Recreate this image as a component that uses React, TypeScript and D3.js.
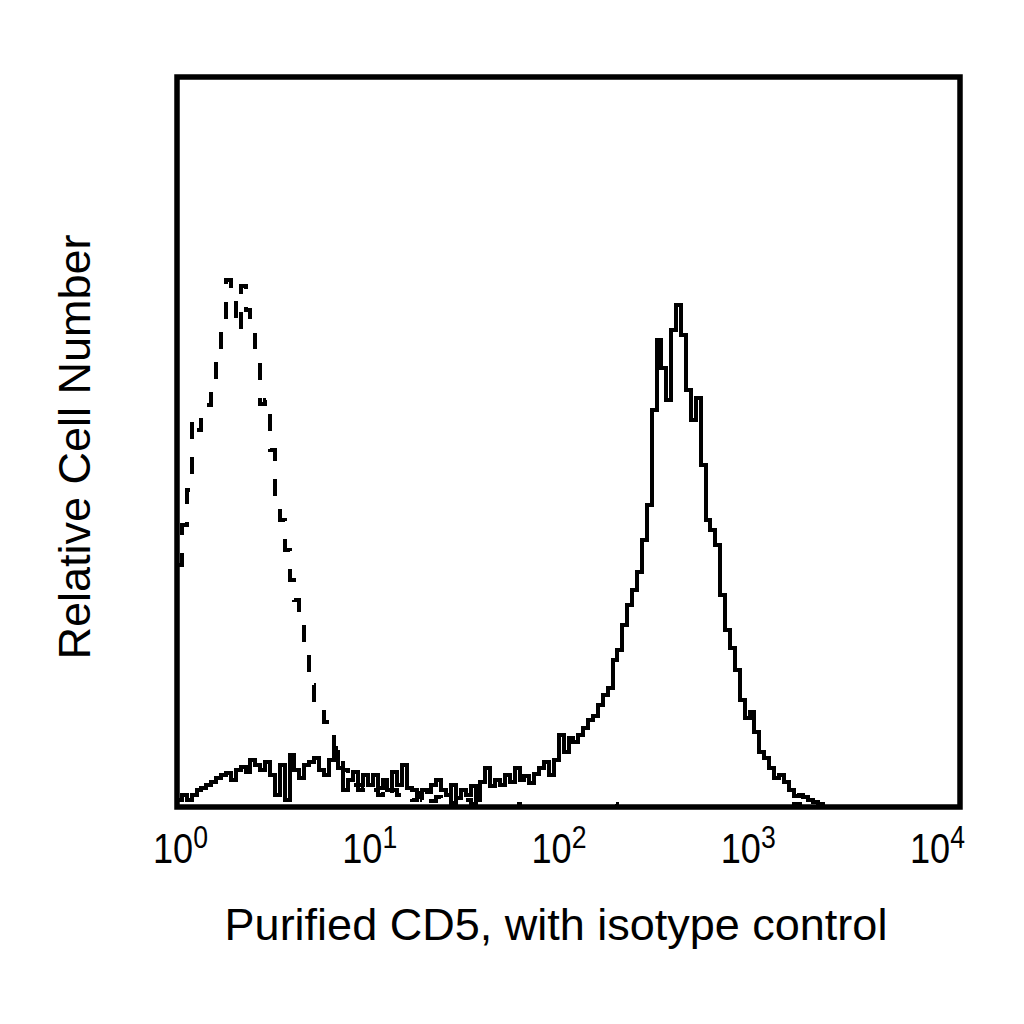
import { useEffect, useRef } from "react";
import * as d3 from "d3";

// 160 log-spaced channels across 10^0..10^4, relative cell counts (0-100 = full axis height)
const cd5Counts = [
  1, 1.6, 1, 1.6, 2.3, 2.6, 3.0, 3.4, 4.0, 4.4,
  4.7, 3.7, 5.1, 5.5, 4.8, 6.4, 5.8, 5.1, 6.2, 4.4,
  1.6, 5.8, 1, 7.1, 5.1, 4.0, 5.8, 6.2, 6.7, 5.1,
  4.4, 6.4, 7.5, 5.3, 2.3, 3.7, 4.8, 3.0, 4.4, 3.0,
  4.4, 2.6, 3.7, 2.3, 4.8, 3.0, 5.8, 2.6, 2.3, 1.9,
  2.3, 2.1, 3.0, 3.7, 2.3, 1.6, 3.0, 1.2, 2.3, 1.6,
  2.9, 1, 3.4, 5.3, 2.9, 3.7, 3.0, 4.4, 3.4, 5.3,
  3.7, 4.2, 3.3, 4.5, 5.3, 6.2, 4.4, 6.4, 9.9, 7.5,
  9.5, 8.9, 9.9, 10.8, 11.9, 12.5, 14.0, 15.3, 16.3, 20.1,
  21.5, 24.9, 27.7, 29.7, 32.2, 36.6, 41.4, 54.4, 64.0, 60.1,
  55.8, 65.3, 68.8, 64.7, 57.1, 53.0, 56.0, 46.8, 39.3, 37.9,
  35.9, 29.0, 24.2, 21.8, 18.8, 14.7, 12.2, 13.0, 10.3, 7.5,
  6.7, 5.3, 4.0, 4.4, 3.4, 2.3, 1.5, 1.6, 1.4, 1,
  0.7, 0.4, 0, 0, 0, 0, 0, 0, 0, 0,
  0, 0, 0, 0, 0, 0, 0, 0, 0, 0,
  0, 0, 0, 0, 0, 0, 0, 0, 0, 0,
];

const isotypeCounts = [
  33.2, 38.6, 43.4, 53.0, 51.6, 54.1, 55.1, 57.8, 62.6, 66.7,
  72.2, 69.5, 65.3, 71.4, 68.1, 64.7, 61.9, 55.2, 55.8, 48.9,
  42.1, 39.3, 35.2, 31.1, 28.4, 25.6, 21.5, 16.7, 14.7, 13.0,
  11.6, 9.9, 8.1, 6.4, 5.1, 4.0, 3.0, 2.3, 2.6, 1.9,
  2.3, 1.6, 2.1, 1.5, 2.3, 1.6, 1.2, 1.5, 1.0, 1.4,
  1.0, 1.6, 0.8, 1.4, 0.5, 1.2, 0.5, 1.0, 0.4, 1.0,
  0.4, 1.0, 0.3, 0, 0, 0, 0, 0, 0, 0.4,
  0, 0, 0, 0, 0, 0, 0, 0, 0, 0,
  0, 0, 0, 0, 0, 0, 0, 0, 0, 0.4,
  0, 0, 0, 0, 0, 0, 0, 0, 0, 0,
  0, 0, 0, 0, 0, 0, 0, 0, 0, 0,
  0, 0, 0, 0, 0, 0, 0, 0, 0, 0,
  0, 0, 0, 0, 0, 0, 0.4, 0.4, 0.4, 0,
  0, 0, 0, 0, 0, 0, 0, 0, 0, 0,
  0, 0, 0, 0, 0, 0, 0, 0, 0, 0,
  0, 0, 0, 0, 0, 0, 0, 0, 0, 0,
];

const decadeTicks = [1, 10, 100, 1000, 10000];
const tickExponents = ["0", "1", "2", "3", "4"];

const xLabel = "Purified CD5, with isotype control";
const yLabel = "Relative Cell Number";

const FONT = "'Liberation Sans', Arial, Helvetica, sans-serif";

export default function App() {
  const svgRef = useRef<SVGSVGElement | null>(null);

  useEffect(() => {
    const svg = d3.select(svgRef.current);
    svg.selectAll("*").remove();

    const left = 177;
    const right = 960;
    const top = 77;
    const bottom = 807;

    const x = d3.scaleLog().domain([1, 10000]).range([left, right]);
    const y = d3.scaleLinear().domain([0, 100]).range([bottom, top]);
    // label start positions drift slightly from the decade marks in the original
    const labelX = d3.scaleLog().domain([1, 10000]).range([153, 910]);

    const nBins = cd5Counts.length;
    const edge = (i: number) => Math.pow(10, (i * 4) / nBins);

    const toPoints = (counts: number[]) => {
      const pts: [number, number][] = counts.map((c, i) => [edge(i), c]);
      pts.push([edge(nBins), counts[counts.length - 1]]);
      return pts;
    };

    const line = d3
      .line<[number, number]>()
      .x((d) => x(d[0]))
      .y((d) => y(d[1]))
      .curve(d3.curveStepAfter);

    const g = svg.append("g").attr("shape-rendering", "crispEdges");

    g.append("path")
      .attr("d", line(toPoints(isotypeCounts)) || "")
      .attr("fill", "none")
      .attr("stroke", "#000")
      .attr("stroke-width", 4)
      .attr("stroke-dasharray", "17 18");

    g.append("path")
      .attr("d", line(toPoints(cd5Counts)) || "")
      .attr("fill", "none")
      .attr("stroke", "#000")
      .attr("stroke-width", 4);

    svg.append("rect")
      .attr("x", left)
      .attr("y", top)
      .attr("width", right - left)
      .attr("height", bottom - top)
      .attr("fill", "none")
      .attr("stroke", "#000")
      .attr("stroke-width", 5.5);

    const ticks = svg.append("g").style("font-family", FONT);
    decadeTicks.forEach((t, i) => {
      const txt = ticks.append("text")
        .attr("transform", `translate(${labelX(t)},863) scale(0.95,1.1)`)
        .style("font-size", "38px")
        .attr("fill", "#000");
      txt.append("tspan").text("10");
      txt.append("tspan")
        .attr("dy", -14)
        .style("font-size", "28px")
        .text(tickExponents[i]);
    });

    svg.append("text")
      .attr("x", 556)
      .attr("y", 940)
      .attr("text-anchor", "middle")
      .style("font-family", FONT)
      .style("font-size", "45px")
      .attr("fill", "#000")
      .text(xLabel);

    svg.append("text")
      .attr("transform", "translate(90,447) rotate(-90)")
      .attr("text-anchor", "middle")
      .style("font-family", FONT)
      .style("font-size", "45px")
      .attr("fill", "#000")
      .text(yLabel);
  }, []);

  return (
    <div style={{ position: "absolute", left: 0, top: 0, background: "#fff" }}>
      <svg ref={svgRef} width={1024} height={1024} style={{ display: "block" }}></svg>
    </div>
  );
}
